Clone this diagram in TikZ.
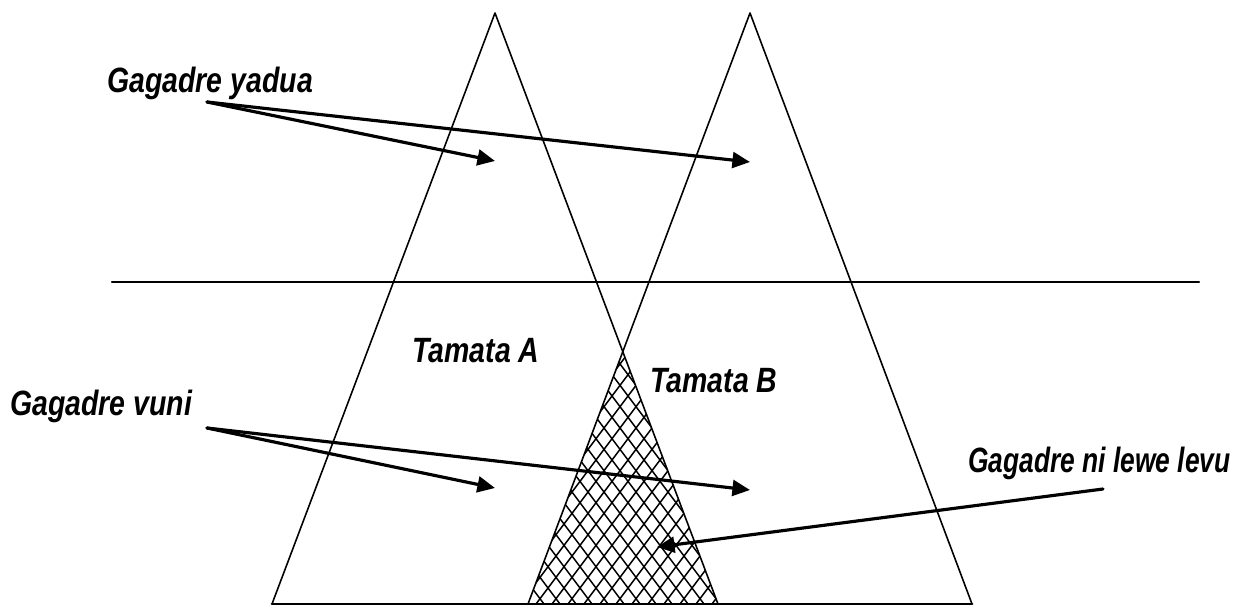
\documentclass[tikz,border=0pt]{standalone}
\usepackage{fontspec}
\setmainfont{Liberation Sans}[FakeStretch=0.81]
\newfontfamily\narrowsans{Liberation Sans}[FakeStretch=0.75]
\usetikzlibrary{arrows.meta, calc}

\begin{document}
\begin{tikzpicture}[x=0.02cm, y=-0.02cm, line join=round, line cap=round,
    lbl/.style={font=\fontsize{20}{24}\selectfont\bfseries\itshape, inner sep=0pt, anchor=base west},
    ptr/.style={line width=1.8pt, -{Triangle[length=10pt,width=9pt]}}]
  \useasboundingbox (0,0) rectangle (1238,608);
  \coordinate (A1) at (495,13);
  \coordinate (A2) at (272,604);
  \coordinate (A3) at (718,604);
  \coordinate (B1) at (750,13);
  \coordinate (B2) at (528,604);
  \coordinate (B3) at (972,604);
  \coordinate (H1) at (112,282);
  \coordinate (H2) at (1199,282);
  \coordinate (X) at (intersection of A1--A3 and B1--B2);
  \begin{scope}
    \clip (X) -- (B2) -- (A3) -- cycle;
    \foreach \x in {380,396,...,880} {
      \draw[line width=0.85pt] (\x,620) -- ++(210,-280);
      \draw[line width=0.85pt] (\x,620) -- ++(-210,-280);
    }
  \end{scope}
  \draw[line width=0.9pt] (A2) -- (A1) -- (A3);
  \draw[line width=0.9pt] (B2) -- (B1) -- (B3);
  \draw[line width=1.7pt] (A2) -- (B3);
  \draw[line width=1.3pt] (H1) -- (H2);
  \node[lbl] (yadua) at (107,93) {Gagadre yadua};
  \node[lbl] (vuni) at (10,415) {Gagadre vuni};
  \node[lbl] (tamA) at (412,362) {Tamata A};
  \node[lbl] (tamB) at (650,392) {Tamata B};
  \node[lbl] (lewe) at (968,472) {\narrowsans Gagadre ni lewe levu};
  \coordinate (yaduaFrom) at (207,102);
  \coordinate (yaduaA) at (495,161);
  \coordinate (yaduaB) at (750,162);
  \coordinate (vuniFrom) at (207,428);
  \coordinate (vuniA) at (495,488);
  \coordinate (vuniB) at (750,490);
  \coordinate (leweFrom) at (1103,489);
  \coordinate (leweTo) at (657,547);
  \draw[ptr] (yaduaFrom) -- (yaduaA);
  \draw[ptr] (yaduaFrom) -- (yaduaB);
  \draw[ptr] (vuniFrom) -- (vuniA);
  \draw[ptr] (vuniFrom) -- (vuniB);
  \draw[ptr] (leweFrom) -- (leweTo);
\end{tikzpicture}
\end{document}
